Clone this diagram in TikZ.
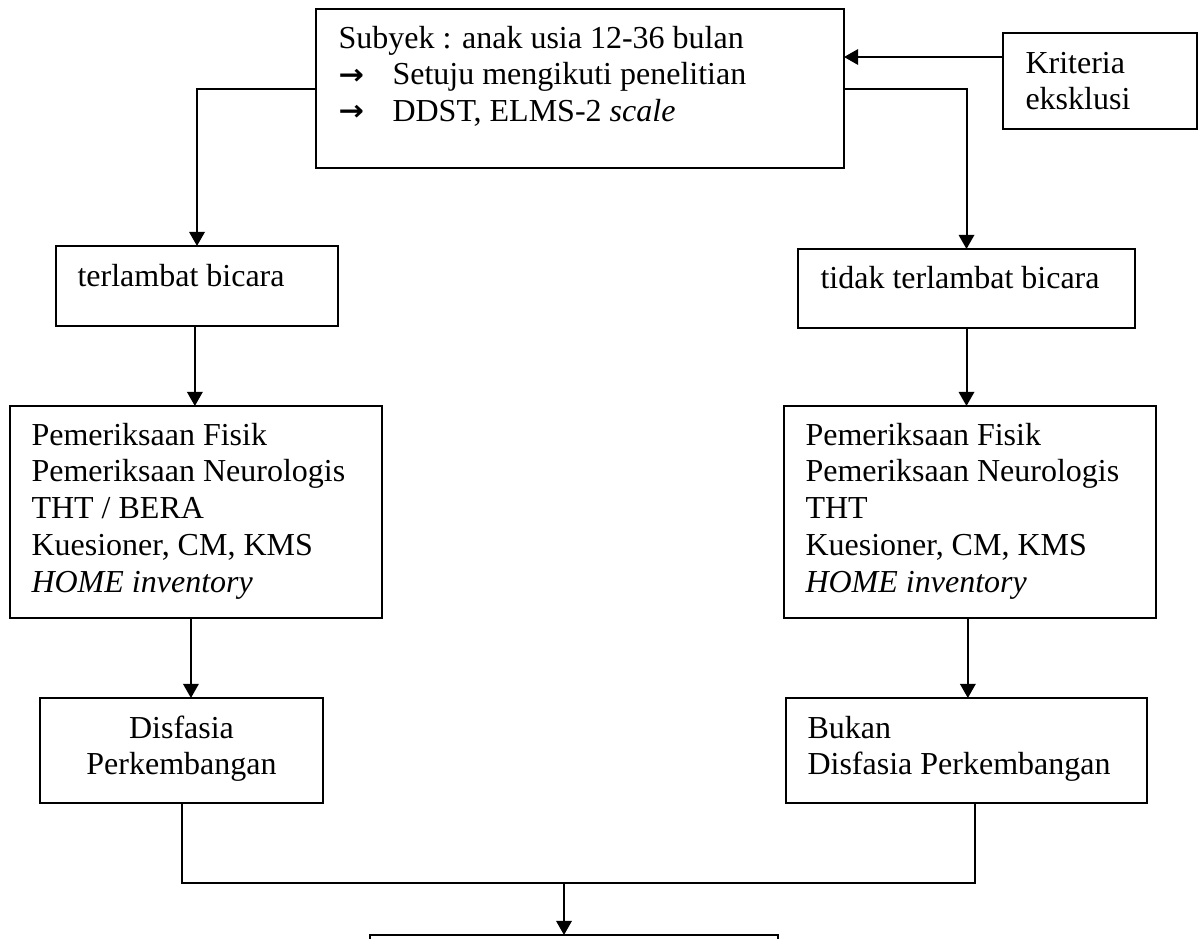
\documentclass[tikz,border=0pt]{standalone}
\usepackage{fontspec}
\setmainfont{Liberation Serif}
\newfontfamily\arrowfont{DejaVu Sans}
\usetikzlibrary{arrows.meta,fit}

% bullet arrow with a fixed tab after it
\newcommand{\tabarrow}{\makebox[20.25pt][l]{\raisebox{0.3pt}{\scalebox{0.95}[0.88]{\arrowfont\bfseries →}}}}

\tikzset{
  box/.style={draw, line width=0.75pt, inner sep=0pt, outer sep=0pt},
  txt/.style={inner sep=0pt, anchor=base west, font=\fontsize{12}{13.8}\selectfont},
  ctxt/.style={txt, anchor=base},
  link/.style={line width=0.75pt},
  arr/.style={link, -{Triangle[length=5.3pt,width=5.8pt]}}
}

\begin{document}
\begin{tikzpicture}[x=0.375pt, y=-0.375pt]
\useasboundingbox (0,0) rectangle (1202,939);
\clip (0,0) rectangle (1202,939);

% boxes
\node[box, fit={(316,9) (844,168)}] (top) {};
\node[box, fit={(1003,33) (1197,129)}] (krit) {};
\node[box, fit={(56,246) (338,326)}] (terl) {};
\node[box, fit={(798,249) (1135,328)}] (tidak) {};
\node[box, fit={(10,406) (382,618)}] (examL) {};
\node[box, fit={(784,406) (1156,618)}] (examR) {};
\node[box, fit={(40,698) (323,803)}] (disL) {};
\node[box, fit={(786,698) (1147,803)}] (disR) {};
\node[box, fit={(370,935) (778,1010)}] (hasil) {};

% texts
\node[txt] (topT) at (338,48) {\begin{tabular}[t]{@{}l@{}}Subyek : anak usia 12-36 bulan\\
  \tabarrow Setuju mengikuti penelitian\\
  \tabarrow DDST, ELMS-2 \textit{scale}\end{tabular}};
\node[txt] (kritT) at (1025,73) {\begin{tabular}[t]{@{}l@{}}Kriteria\\ eksklusi\end{tabular}};
\node[txt] (terlT) at (77,286) {terlambat bicara};
\node[txt] (tidakT) at (820,288) {tidak terlambat bicara};
\node[txt] (examLT) at (31,445) {\begin{tabular}[t]{@{}l@{}}Pemeriksaan Fisik\\
  Pemeriksaan Neurologis\\ THT / BERA\\ Kuesioner, CM, KMS\\ \textit{HOME inventory}\end{tabular}};
\node[txt] (examRT) at (805,445) {\begin{tabular}[t]{@{}l@{}}Pemeriksaan Fisik\\
  Pemeriksaan Neurologis\\ THT\\ Kuesioner, CM, KMS\\ \textit{HOME inventory}\end{tabular}};
\node[ctxt] (disLT) at (181.5,738) {\begin{tabular}[t]{@{}c@{}}Disfasia\\ Perkembangan\end{tabular}};
\node[txt] (disRT) at (807,738) {\begin{tabular}[t]{@{}l@{}}Bukan\\ Disfasia Perkembangan\end{tabular}};

% connectors
\draw[arr] ([yshift=9pt]krit.west) -- ([yshift=9pt]krit.west -| top.east);
\draw[arr] (top.west) -| (terl.north);
\draw[arr] (top.east) -| (tidak.north);
\draw[arr] ([xshift=-0.8pt]terl.south) -- ([xshift=-0.8pt]terl.south |- examL.north);
\draw[arr] (tidak.south) -- (tidak.south |- examR.north);
\draw[arr] ([xshift=-1.9pt]examL.south) -- ([xshift=-1.9pt]examL.south |- disL.north);
\draw[arr] ([xshift=-0.8pt]examR.south) -- ([xshift=-0.8pt]examR.south |- disR.north);
\coordinate (join) at (564,883);
\draw[link] (disL.south) |- (join);
\draw[link] ([xshift=3.2pt]disR.south) |- (join);
\draw[arr] (join) -- (join |- hasil.north);
\end{tikzpicture}
\end{document}
